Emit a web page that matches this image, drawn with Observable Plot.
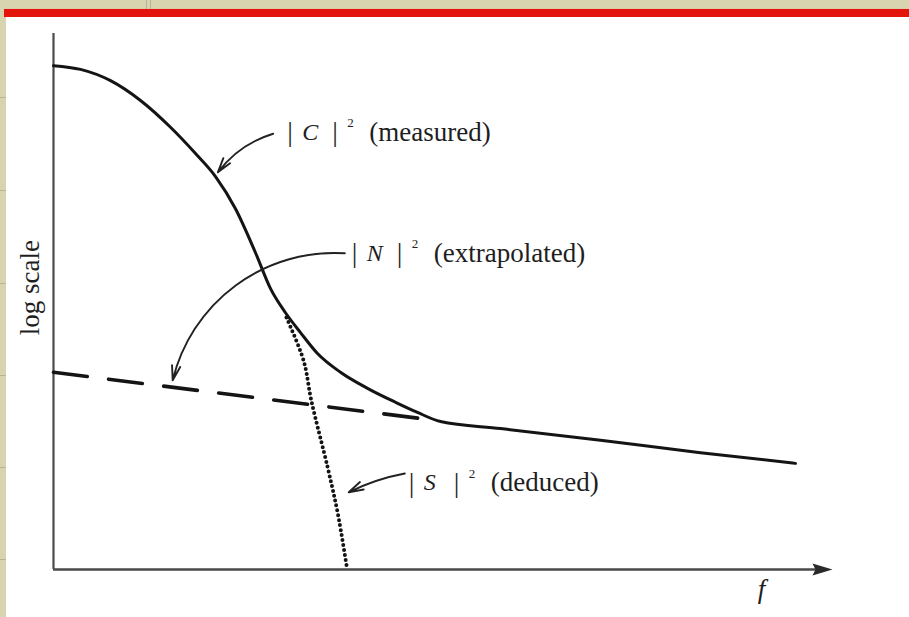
<!DOCTYPE html>
<html>
<head>
<meta charset="utf-8">
<script src="https://cdn.jsdelivr.net/npm/d3@7"></script>
<script src="https://cdn.jsdelivr.net/npm/@observablehq/plot@0.6"></script>
<style>
  html, body { margin: 0; padding: 0; }
  body { width: 909px; height: 617px; position: relative; overflow: hidden; background: #d9d4b0; }
  #sep { position: absolute; left: 146px; top: 0; width: 3px; height: 9px; border-left: 1px solid #b5b197; border-right: 1px solid #b5b197; }
  #bar { position: absolute; left: 4px; right: 0; top: 9px; height: 8px; background: #e3140c; box-shadow: 0 0 1px #f29a90; }
  #panel { position: absolute; left: 6px; top: 17px; width: 903px; height: 600px; background: #fff; }
  .tick { position: absolute; left: 0; width: 6px; height: 1px; background: #b8b49b; }
</style>
</head>
<body>
<div id="sep"></div>
<div id="bar"></div>
<div class="tick" style="top:97px"></div>
<div class="tick" style="top:190px"></div>
<div class="tick" style="top:283px"></div>
<div class="tick" style="top:375px"></div>
<div class="tick" style="top:467px"></div>
<div class="tick" style="top:559px"></div>
<div id="panel"></div>
<script>
// Frequency axis runs 0..100, power (log scale) axis runs 0..100, both in arbitrary units.
const fMax = 100;
const levelMax = 100;

// |C|^2, the measured spectrum
const measuredFreq  = [0, 3.47, 7.32, 11.17, 15.02, 18.23, 20.80, 23.36, 25.93, 27.86, 29.78, 31.71, 33.89, 36.84, 40.31, 43.90, 46.73, 49.68, 57.38, 70.22, 83.06, 95.25];
const measuredLevel = [94.0, 93.3, 91.2, 87.5, 82.5, 77.6, 73.3, 67.3, 59.1, 52.4, 47.9, 44.2, 40.3, 36.8, 33.8, 31.2, 29.3, 27.6, 26.3, 24.1, 21.8, 19.8];

// |N|^2, the noise floor extrapolated back to low frequencies
const noiseFreq  = [0, 47.0];
const noiseLevel = [36.8, 28.2];

// |S|^2, the signal deduced as measured minus noise
const signalFreq  = [29.9, 32.1, 33.1, 35.2, 36.5, 37.7];
const signalLevel = [47.0, 39.0, 31.5, 19.0, 10.4, 0];

// Annotations: symbol, note, where the label starts, and where its pointer runs
const labelSymbols = ["C", "N", "S"];
const labelNotes   = ["(measured)", "(extrapolated)", "(deduced)"];
const labelFreq    = [30.0, 38.3, 45.6];
const labelLevel   = [81.6, 59.0, 16.2];
const pointerFromFreq  = [28.2, 37.4, 45.1];
const pointerFromLevel = [81.3, 59.0, 17.9];
const pointerToFreq    = [21.1, 15.3, 37.9];
const pointerToLevel   = [74.1, 35.3, 14.4];
const pointerBend      = [-18, -40, -8];

const axisLabelY = "log scale";
const axisLabelX = "f";

const measured = measuredFreq.map((f, i) => ({f, v: measuredLevel[i]}));
const noise = noiseFreq.map((f, i) => ({f, v: noiseLevel[i]}));
const signal = signalFreq.map((f, i) => ({f, v: signalLevel[i]}));
const labels = labelSymbols.map((s, i) => ({sym: s, note: labelNotes[i], f: labelFreq[i], v: labelLevel[i]}));
const pointers = labelSymbols.map((s, i) => ({
  f1: pointerFromFreq[i], v1: pointerFromLevel[i],
  f2: pointerToFreq[i], v2: pointerToLevel[i], bend: pointerBend[i]
}));

// Filled arrowhead with its tip at the symbol's origin, pointing right
const arrowTip = {
  draw(context, size) {
    const r = Math.sqrt(size / Math.PI);
    context.moveTo(0, 0);
    context.lineTo(-2 * r, -0.6 * r);
    context.lineTo(-1.7 * r, 0);
    context.lineTo(-2 * r, 0.6 * r);
    context.closePath();
  }
};

const serif = "Liberation Serif, Times New Roman, serif";
const ink = "#141414";
const textInk = "#1e1e1e";
const textBase = {x: "f", y: "v", textAnchor: "start", fontFamily: serif, fill: textInk};

const chart = Plot.plot({
  width: 903,
  height: 600,
  marginLeft: 47,
  marginRight: 77,
  marginTop: 16,
  marginBottom: 48,
  x: {domain: [0, fMax], axis: null},
  y: {domain: [0, levelMax], axis: null},
  style: {background: "transparent", overflow: "visible", fontFamily: serif},
  marks: [
    // axes
    Plot.ruleX([0], {y1: 0, y2: levelMax, stroke: "#4a4a4a", strokeWidth: 2.2}),
    Plot.ruleY([0], {x1: 0, x2: fMax - 2, stroke: "#4a4a4a", strokeWidth: 2.4}),
    Plot.dot([{f: fMax, v: 0}], {x: "f", y: "v", symbol: arrowTip, r: 10, fill: "#2a2a2a", stroke: null}),
    Plot.text([axisLabelY], {x: -2.95, y: 52.6, text: d => d, rotate: -90, fontSize: 27, fontFamily: serif, fill: textInk}),
    Plot.text([axisLabelX], {x: 90.9, y: -3.7, text: d => d, fontSize: 27, fontStyle: "italic", fontFamily: serif, fill: textInk}),

    // spectra
    Plot.line(noise, {x: "f", y: "v", stroke: ink, strokeWidth: 3.6, strokeDasharray: "34 21.5"}),
    Plot.line(signal, {x: "f", y: "v", curve: "catmull-rom", stroke: ink, strokeWidth: 4, strokeDasharray: "0 5", strokeLinecap: "round"}),
    Plot.line(measured, {x: "f", y: "v", curve: "monotone-x", stroke: ink, strokeWidth: 3}),

    // pointers
    ...pointers.map(p => Plot.arrow([p], {
      x1: "f1", y1: "v1", x2: "f2", y2: "v2", bend: p.bend,
      stroke: "#222", strokeWidth: 1.9, headLength: 12, headAngle: 32
    })),

    // labels: | X |^2 (note)
    Plot.text(labels, {...textBase, text: () => "|", fontSize: 28}),
    Plot.text(labels, {...textBase, text: "sym", dx: 15, fontSize: 24, fontStyle: "italic"}),
    Plot.text(labels, {...textBase, text: () => "|", dx: 45, fontSize: 28}),
    Plot.text(labels, {...textBase, text: () => "2", dx: 60, dy: -9, fontSize: 13}),
    Plot.text(labels, {...textBase, text: "note", dx: 82, fontSize: 27})
  ]
});

document.getElementById("panel").appendChild(chart);
</script>
</body>
</html>
